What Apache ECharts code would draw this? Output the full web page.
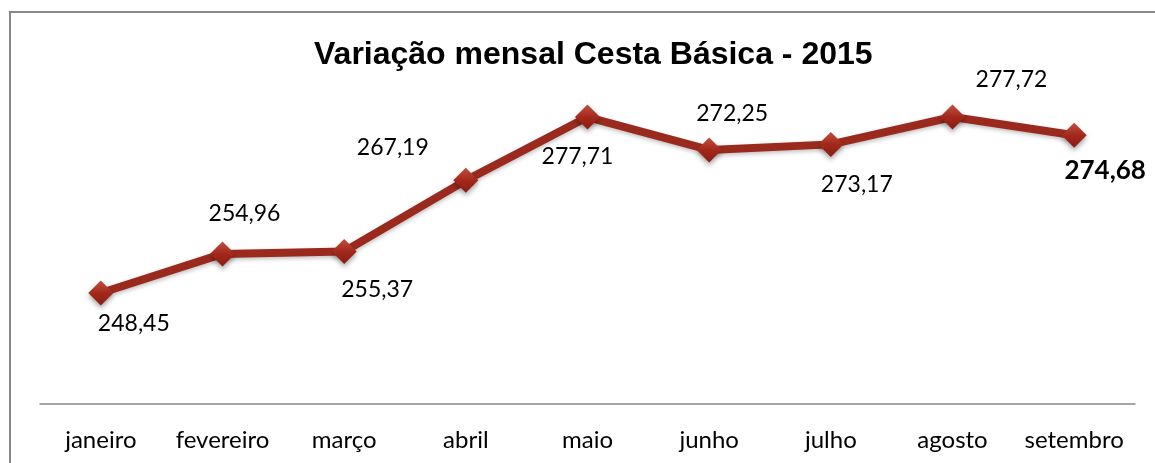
<!DOCTYPE html>
<html>
<head>
<meta charset="utf-8">
<script src="https://cdn.jsdelivr.net/npm/echarts@6/dist/echarts.min.js"></script>
<style>
  html, body { margin: 0; padding: 0; background: #fff; }
  #chart { width: 1155px; height: 463px; }
</style>
</head>
<body>
<div id="chart"></div>
<script>
const months = ['janeiro', 'fevereiro', 'março', 'abril', 'maio', 'junho', 'julho', 'agosto', 'setembro']
const prices = [248.45, 254.96, 255.37, 267.19, 277.71, 272.25, 273.17, 277.72, 274.68]

// label placement relative to its marker (px), like the hand-moved excel labels
const labelOffsets = [[33, 31], [22, -40], [33, 38], [-73, -33], [-10, 40], [23, -36], [26, 40], [59, -37], [31, 35]]

const fmt = v => v.toFixed(2).replace('.', ',')

const chart = echarts.init(document.getElementById('chart'))

const markerFill = new echarts.graphic.LinearGradient(0, 0, 0, 1, [
  { offset: 0, color: '#c0503f' },
  { offset: 0.5, color: '#a3281b' },
  { offset: 1, color: '#8a1d12' }
])

const seriesData = prices.map((v, i) => {
  const item = { value: v, label: { offset: labelOffsets[i] } }
  if (i === prices.length - 1) {
    item.label.fontWeight = 'bold'
    item.label.fontSize = 26
  }
  return item
})

const option = {
  animation: false,
  title: {
    text: 'Variação mensal Cesta Básica - 2015',
    left: 309,
    top: 34,
    textStyle: {
      fontFamily: 'Liberation Sans',
      fontWeight: 'bold',
      fontSize: 32,
      color: '#000'
    }
  },
  graphic: [{
    type: 'rect',
    shape: { x: 10, y: 12, width: 1200, height: 500 },
    style: { fill: 'none', stroke: '#888', lineWidth: 2 },
    silent: true
  }],
  grid: { left: 40, right: 20, top: 103.3, bottom: 59 },
  xAxis: {
    type: 'category',
    data: months,
    boundaryGap: true,
    axisLine: { lineStyle: { color: '#888', width: 1.5 } },
    axisTick: { show: false },
    axisLabel: {
      interval: 0,
      color: '#000',
      fontFamily: 'Lato',
      fontSize: 24,
      margin: 24
    }
  },
  yAxis: {
    type: 'value',
    min: 230,
    max: 280,
    show: false
  },
  series: [{
    type: 'line',
    data: seriesData,
    symbol: 'diamond',
    symbolSize: 25,
    lineStyle: { color: '#9b2a1e', width: 8, shadowColor: 'rgba(0,0,0,0.25)', shadowBlur: 4, shadowOffsetY: 2 },
    itemStyle: {
      color: markerFill,
      shadowColor: 'rgba(0,0,0,0.35)',
      shadowBlur: 5,
      shadowOffsetY: 3
    },
    label: {
      show: true,
      position: 'inside',
      formatter: p => fmt(p.value),
      color: '#000',
      fontFamily: 'Lato',
      fontSize: 23
    }
  }]
}

chart.setOption(option)
</script>
</body>
</html>
